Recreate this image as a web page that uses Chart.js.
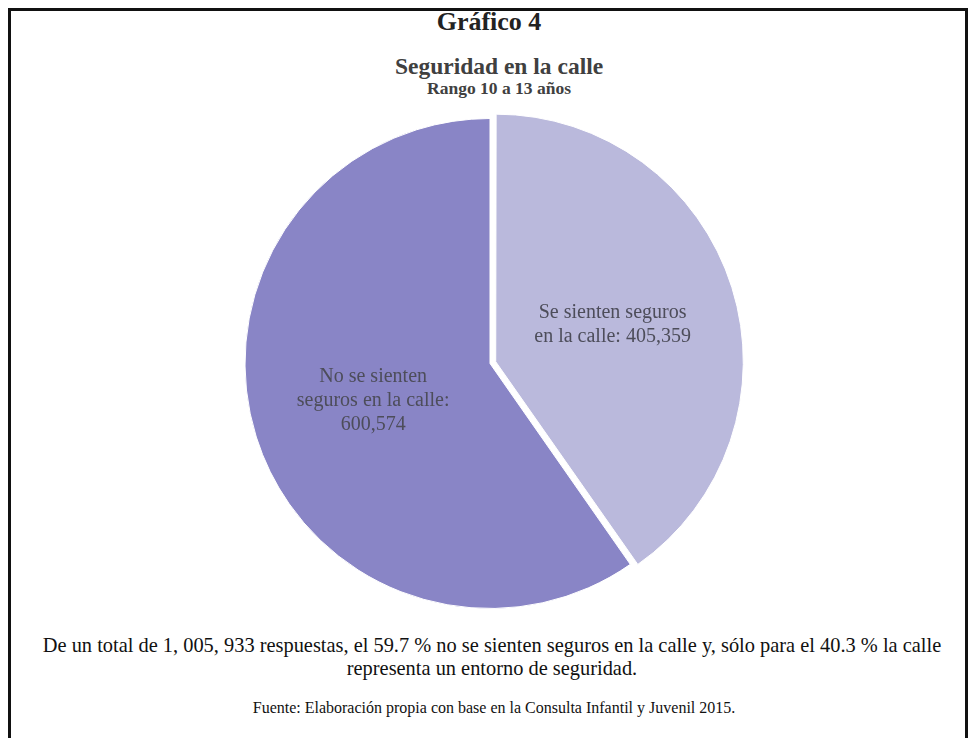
<!DOCTYPE html>
<html lang="es">
<head>
<meta charset="utf-8">
<title>Gráfico 4 - Seguridad en la calle</title>
<script src="https://cdn.jsdelivr.net/npm/chart.js@4/dist/chart.umd.min.js"></script>
<style>
  html, body { margin: 0; padding: 0; background: #fff; }
  body { width: 969px; height: 738px; position: relative; overflow: hidden; font-family: "Liberation Serif", "Times New Roman", serif; }
  .frame { position: absolute; left: 8px; top: 8px; width: 960px; height: 760px; border: 3px solid #111; box-sizing: border-box; border-bottom: none; }
  .t { position: absolute; transform: translateX(-50%); text-align: center; white-space: nowrap; }
  #num { left: 489px; top: 7px; font-size: 26px; font-weight: bold; color: #222; }
  #title { left: 499px; top: 53px; font-size: 23.5px; font-weight: bold; color: #404040; }
  #sub { left: 499px; top: 78px; font-size: 17.5px; font-weight: bold; color: #404040; }
  #note { left: 492px; top: 634px; font-size: 20.4px; line-height: 23px; color: #111; }
  #src { left: 494px; top: 699px; font-size: 16px; color: #111; }
  #pie { position: absolute; left: 235px; top: 108px; }
</style>
</head>
<body>
<div class="frame"></div>
<div class="t" id="num">Gráfico 4</div>
<div class="t" id="title">Seguridad en la calle</div>
<div class="t" id="sub">Rango 10 a 13 años</div>
<canvas id="pie" width="510" height="511"></canvas>
<div class="t" id="note">De un total de 1, 005, 933 respuestas, el 59.7 % no se sienten seguros en la calle y, sólo para el 40.3 % la calle<br>representa un entorno de seguridad.</div>
<div class="t" id="src">Fuente: Elaboración propia con base en la Consulta Infantil y Juvenil 2015.</div>
<script>
// Responses by category (10 to 13 year olds)
const categories = ["Se sienten seguros en la calle", "No se sienten seguros en la calle"];
const responses = [405359, 600574];
// Text drawn inside each slice, one entry per line
const sliceLabels = [
  ["Se sienten seguros", "en la calle: 405,359"],
  ["No se sienten", "seguros en la calle:", "600,574"]
];
const sliceColors = ["#bab9dc", "#8985c6"];
// Chart.js moves an arc by offset / 4 pixels, so 24 pulls the slice out 6px
const sliceOffsets = [24, 0];

const fmt = new Intl.NumberFormat("en-US");

// Writes the multi-line label halfway along the radius of each (possibly pulled-out) arc
const sliceLabelPlugin = {
  id: "sliceLabels",
  afterDatasetsDraw(chart) {
    const ctx = chart.ctx;
    const meta = chart.getDatasetMeta(0);
    ctx.save();
    ctx.font = "20px 'Liberation Serif', 'Times New Roman', serif";
    ctx.fillStyle = "#4d4d5a";
    ctx.textAlign = "center";
    ctx.textBaseline = "middle";
    const lineH = 24;
    meta.data.forEach((arc, i) => {
      const mid = (arc.startAngle + arc.endAngle) / 2;
      const r = (arc.innerRadius + arc.outerRadius) / 2 + (arc.options.offset || 0) / 4;
      const px = arc.x + Math.cos(mid) * r;
      const py = arc.y + Math.sin(mid) * r;
      const lines = sliceLabels[i];
      const y0 = py - (lines.length - 1) * lineH / 2;
      lines.forEach((ln, k) => ctx.fillText(ln, px, y0 + k * lineH));
    });
    ctx.restore();
  }
};

new Chart(document.getElementById("pie"), {
  type: "pie",
  data: {
    labels: categories,
    datasets: [{
      data: responses,
      backgroundColor: sliceColors,
      borderColor: "#ffffff",
      borderWidth: 1,
      offset: sliceOffsets
    }]
  },
  options: {
    responsive: false,
    animation: false,
    radius: 245,
    layout: { padding: 0 },
    plugins: {
      legend: { display: false },
      title: { display: false },
      tooltip: {
        callbacks: { label: (c) => c.label + ": " + fmt.format(c.raw) }
      }
    }
  },
  plugins: [sliceLabelPlugin]
});
</script>
</body>
</html>
